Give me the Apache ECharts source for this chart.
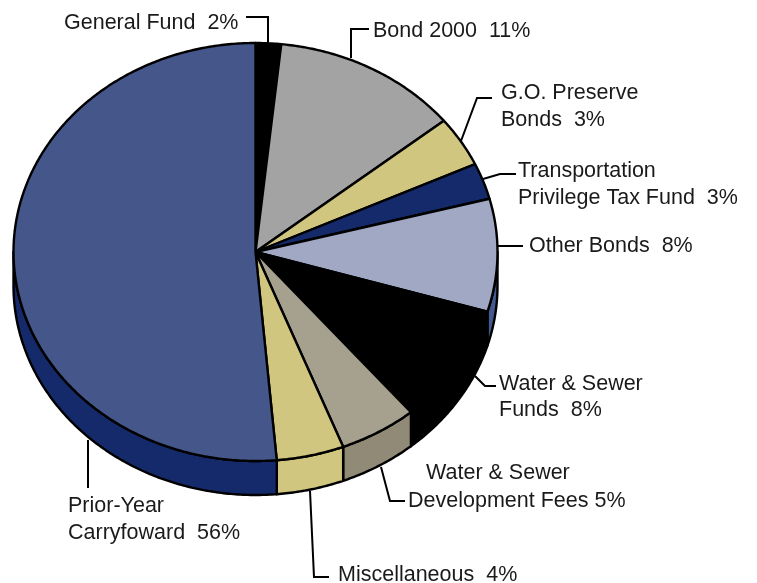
<!DOCTYPE html>
<html><head><meta charset="utf-8">
<style>html,body{margin:0;padding:0;background:#fff}#c{width:757px;height:583px}</style>
<script src="https://cdn.jsdelivr.net/npm/echarts@6/dist/echarts.min.js"></script>
</head><body><div id="c"></div>
<script>
// Categories, clockwise from 12 o'clock
const categories = ['General Fund','Bond 2000','G.O. Preserve Bonds','Transportation Privilege Tax Fund','Other Bonds','Water & Sewer Funds','Water & Sewer Development Fees','Miscellaneous','Prior-Year Carryfoward'];
// Printed percentages
const printedPct = [2,11,3,3,8,8,5,4,56];
// Slice sizes as drawn in the picture (drawn shares differ from printed ones)
const drawnShare = [1.7,12.5,3.9,2.8,8.7,9.3,5.2,4.5,51.4];
const topColors = ['#000000','#a3a3a3','#d0c67f','#142a6b','#a0a8c3','#000000','#a6a08e','#d0c67f','#44568a'];
const sideColors = ['#000000','#a3a3a3','#d0c67f','#142a6b','#44598f','#000000','#918a76','#d0c67f','#142a6b'];

const CX = 255.5, CY = 252, RX = 242, RY = 209, DEPTH = 34;
const total = drawnShare.reduce((a,b)=>a+b,0);
const starts = []; drawnShare.reduce((a,v,i)=>{starts[i]=a;return a+v;},0);
const ang = s => s/total*2*Math.PI;
const pt = (t,dy=0) => [CX+RX*Math.sin(t), CY-RY*Math.cos(t)+dy];
function arc(a,b,dy=0){const n=Math.max(2,Math.ceil((b-a)/0.01));const o=[];for(let i=0;i<=n;i++)o.push(pt(a+(b-a)*i/n,dy));return o;}

function renderTop(params){
  const i=params.dataIndex;const a=ang(starts[i]),b=ang(starts[i]+drawnShare[i]);
  return {type:'polygon',shape:{points:[[CX,CY]].concat(arc(a,b))},
    style:{fill:topColors[i],stroke:'#000',lineWidth:2.4,lineJoin:'round'}};
}
function renderSide(params){
  const i=params.dataIndex;
  const a=Math.max(ang(starts[i]),Math.PI/2),b=Math.min(ang(starts[i]+drawnShare[i]),Math.PI*1.5);
  if(b<=a) return {type:'group',children:[]};
  return {type:'polygon',shape:{points:arc(a,b).concat(arc(a,b,DEPTH).reverse())},
    style:{fill:sideColors[i],stroke:'#000',lineWidth:2.4,lineJoin:'round'}};
}
const seriesData = drawnShare.map((v,i)=>({name:categories[i],value:v}));

const pctText = i => printedPct[i]+'%';
const labelItems = [
  {lines:[['General Fund  '+pctText(0),64,23]],leader:[[246,17],[268,17],[268,43]]},
  {lines:[['Bond 2000  '+pctText(1),373,31]],leader:[[369,29],[351,29],[351,58]]},
  {lines:[['G.O. Preserve',501,93],['Bonds  '+pctText(2),501,120]],leader:[[492,98],[477,98],[461,141]]},
  {lines:[['Transportation',518,171],['Privilege Tax Fund  '+pctText(3),518,198]],leader:[[516,174],[500,174],[483,179]]},
  {lines:[['Other Bonds  '+pctText(4),529,246]],leader:[[498,246],[523,246]]},
  {lines:[['Water & Sewer',499,384],['Funds  '+pctText(5),499,410]],leader:[[475,376],[485,386],[496,386]]},
  {lines:[['Water & Sewer',426,473],['Development Fees '+pctText(6),408,501]],leader:[[381,467],[390,501],[405,501]]},
  {lines:[['Miscellaneous  '+pctText(7),338,575]],leader:[[310,491],[314,577],[329,577]]},
  {lines:[['Prior-Year',68,506],['Carryfoward  '+pctText(8),68,533]],leader:[[88,440],[88,488]]}
];
const graphics=[];
labelItems.forEach(it=>{
  graphics.push({type:'polyline',z:10,shape:{points:it.leader},style:{stroke:'#000',lineWidth:2,fill:null}});
  it.lines.forEach(l=>graphics.push({type:'text',z:10,x:l[1],y:l[2],style:{text:l[0],fill:'#1a1a1a',font:'21.5px "Liberation Sans", Arial, sans-serif',textAlign:'left',textVerticalAlign:'middle'}}));
});

const chart=echarts.init(document.getElementById('c'),null,{renderer:'canvas'});
chart.setOption({
  animation:false,backgroundColor:'#fff',
  graphic:graphics,
  series:[
    {type:'custom',coordinateSystem:'none',renderItem:renderSide,data:seriesData,z:1,silent:true},
    {type:'custom',coordinateSystem:'none',renderItem:renderTop,data:seriesData,z:2,silent:true}
  ]
});
</script></body></html>
